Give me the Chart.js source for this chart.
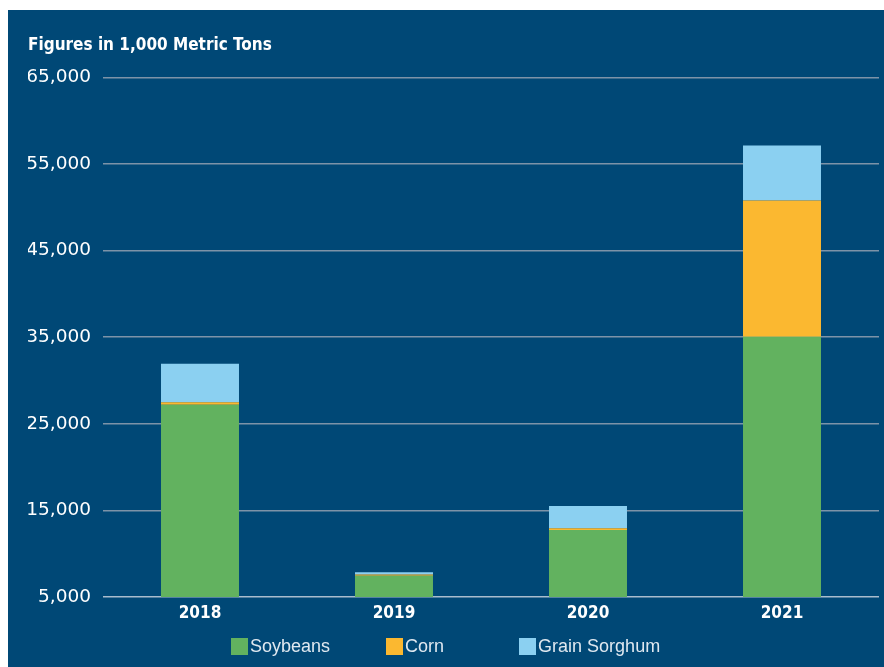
<!DOCTYPE html>
<html lang="en">
<head>
    <meta charset="UTF-8">
    <title>Exports</title>
    <script src="https://cdn.jsdelivr.net/npm/chart.js"></script>
    <style>
        body { margin: 0; background: #fff; }
        #painel {
            position: absolute; left: 8px; top: 10px; width: 876px; height: 657px;
            background: #004876;
        }
        #painel canvas { position: absolute; left: 0; top: 0; }
        #legenda {
            position: absolute; left: 223px; top: 626px; display: flex; align-items: center;
            font: 18px "Liberation Sans", Arial, sans-serif; color: #dfe8f0;
        }
        .item { display: flex; align-items: center; }
        .item span.box { width: 17px; height: 17px; margin-right: 2px; display: inline-block; }
        .item:nth-child(2) { margin-left: 56px; }
        .item:nth-child(3) { margin-left: 75px; }
    </style>
</head>
<body>
    <div id="painel">
        <canvas id="grafico" width="876" height="657"></canvas>
        <div id="legenda"></div>
    </div>

<script>
    const anos = ['2018', '2019', '2020', '2021'];
    const soja = [27200, 7460, 12750, 35050];
    const milho = [300, 150, 190, 15730];
    const sorgo = [4430, 250, 2580, 6360];

    const nomes = ['Soybeans', 'Corn', 'Grain Sorghum'];
    const cores = ['#62b25f', '#fbb830', '#8bd0f1'];

    const yMin = 5000, yMax = 65000, passo = 10000;

    // legenda em html
    const leg = document.getElementById('legenda');
    nomes.forEach((n, i) => {
        const d = document.createElement('div');
        d.className = 'item';
        d.innerHTML = '<span class="box" style="background:' + cores[i] + '"></span>' + n;
        leg.appendChild(d);
    });

    const fonteEstreita = '"Liberation Sans Narrow", "DejaVu Sans Condensed", sans-serif';

    const ctx = document.getElementById('grafico').getContext('2d');
    new Chart(ctx, {
        type: 'bar',
        data: {
            labels: anos,
            datasets: [
                { label: nomes[0], data: soja, backgroundColor: cores[0] },
                { label: nomes[1], data: milho, backgroundColor: cores[1] },
                { label: nomes[2], data: sorgo, backgroundColor: cores[2] }
            ]
        },
        options: {
            responsive: false,
            animation: false,
            layout: { padding: { left: 20, right: 5, top: 0, bottom: 0 } },
            datasets: { bar: { categoryPercentage: 1, barPercentage: 0.402, borderWidth: 0 } },
            plugins: {
                legend: { display: false },
                tooltip: { enabled: false },
                title: {
                    display: true,
                    text: 'Figures in 1,000 Metric Tons',
                    align: 'start',
                    color: '#ffffff',
                    font: { family: fonteEstreita, size: 17, weight: 'bold' },
                    padding: { top: 25, bottom: 22 }
                }
            },
            scales: {
                x: {
                    stacked: true,
                    grid: { display: false, drawTicks: false },
                    border: { display: false },
                    ticks: {
                        color: '#ffffff',
                        padding: 6,
                        font: { family: fonteEstreita, size: 17, weight: 'bold' }
                    },
                    afterFit: s => { s.height = 70; }
                },
                y: {
                    stacked: true,
                    min: yMin,
                    max: yMax,
                    grid: {
                        drawTicks: false,
                        lineWidth: 1.5,
                        color: c => c.tick && c.tick.value === yMin ? '#a9bccd' : '#7d93a8'
                    },
                    border: { display: false },
                    ticks: {
                        stepSize: passo,
                        padding: 12,
                        color: '#ffffff',
                        font: { family: '"DejaVu Sans", sans-serif', size: 18.5 },
                        callback: v => v.toLocaleString('en-US')
                    },
                    afterFit: s => { s.width = 75; }
                }
            }
        }
    });
</script>
</body>
</html>
